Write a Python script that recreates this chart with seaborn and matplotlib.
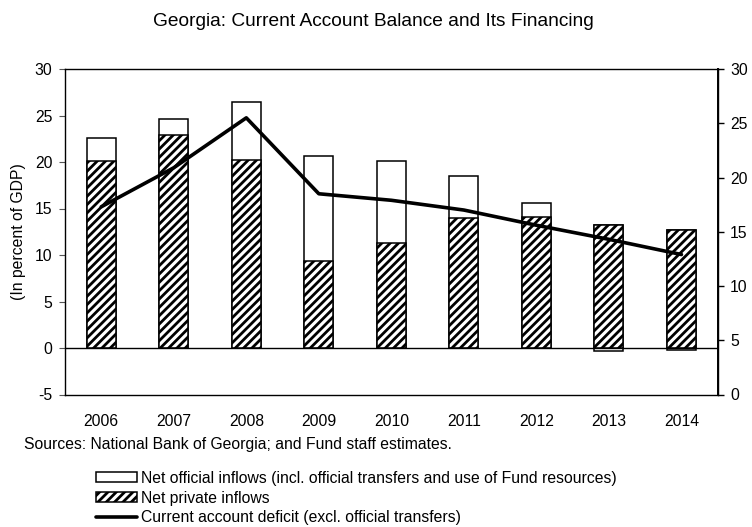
import numpy as np
import pandas as pd
import matplotlib
matplotlib.use("Agg")
import matplotlib.pyplot as plt
import seaborn as sns
from matplotlib.patches import Patch
from matplotlib.lines import Line2D

# Georgia: current account balance and its financing (percent of GDP)
years = ["2006", "2007", "2008", "2009", "2010", "2011", "2012", "2013", "2014"]
private_inflows = [20.1, 22.9, 20.2, 9.4, 11.3, 14.0, 14.1, 13.2, 12.7]
official_inflows = [2.5, 1.7, 6.3, 11.2, 8.8, 4.5, 1.5, -0.3, -0.2]
ca_deficit = [17.3, 20.9, 25.5, 18.5, 17.9, 17.0, 15.6, 14.3, 12.9]

title = "Georgia: Current Account Balance and Its Financing"
source_note = "Sources: National Bank of Georgia; and Fund staff estimates."
legend_labels = [
    "Net official inflows (incl. official transfers and use of Fund resources)",
    "Net private inflows",
    "Current account deficit (excl. official transfers)",
]

df = pd.DataFrame({
    "year": years,
    "private": private_inflows,
    "official": official_inflows,
    "deficit": ca_deficit,
})
df["stack_top"] = df["private"] + df["official"].clip(lower=0)
df["official_neg"] = df["official"].clip(upper=0)

sns.set_theme(style="white")
plt.rcParams["font.family"] = ["Liberation Sans", "DejaVu Sans"]
plt.rcParams["axes.unicode_minus"] = False
plt.rcParams["hatch.linewidth"] = 2.0
plt.rcParams["hatch.color"] = "black"
plt.rcParams["text.color"] = "black"
plt.rcParams["axes.labelcolor"] = "black"

W, H = 752, 527
fig = plt.figure(figsize=(W / 100, H / 100), dpi=100)
ax = fig.add_axes([65 / W, 1 - 394.5 / H, (717.7 - 65) / W, (394.5 - 69) / H])

fs = 11.3
bar_kw = dict(ax=ax, width=0.4, edgecolor="black", linewidth=1.1,
              saturation=1, order=years)

# official inflows stacked on top of private inflows (white), negatives below zero
sns.barplot(data=df, x="year", y="stack_top", color="white", **bar_kw)
sns.barplot(data=df, x="year", y="official_neg", color="white", **bar_kw)
# private inflows, hatched
sns.barplot(data=df, x="year", y="private", color="white", hatch="////", **bar_kw)

ax.axhline(0, color="black", lw=1.0, zorder=3)
ax.set_ylim(-5, 30)
ax.set_yticks(range(-5, 31, 5))
ax.set_xlim(-0.5, len(years) - 0.5)
ax.set_xlabel("")
ax.set_ylabel("(In percent of GDP)", fontsize=fs, labelpad=6, color="black")
ax.tick_params(axis="y", which="both", left=True, length=4, width=0.8,
               color="#555555", labelcolor="black", labelsize=fs, pad=5)
ax.tick_params(axis="x", bottom=False, labelcolor="black", labelsize=fs, pad=8)
for s in ax.spines.values():
    s.set_color("black")
    s.set_linewidth(1.0)

# current account deficit on the right-hand scale
ax2 = ax.twinx()
sns.lineplot(x=np.arange(len(years)), y=df["deficit"].values, ax=ax2,
             color="black", linewidth=2.6)
ax2.set_ylim(0, 30)
ax2.set_yticks(range(0, 31, 5))
ax2.set_xlim(-0.5, len(years) - 0.5)
ax2.tick_params(axis="y", right=True, length=4, width=1.0, color="black",
                labelcolor="black", labelsize=fs, pad=5)
ax2.set_ylabel("")
for s in ax2.spines.values():
    s.set_visible(False)
ax2.spines["right"].set_visible(True)
ax2.spines["right"].set_color("black")
ax2.spines["right"].set_linewidth(1.4)

fig.text(373 / W, 1 - 22 / H, title, ha="center", va="center", fontsize=13.8,
         color="black")
fig.text(24 / W, 1 - 445 / H, source_note, ha="left", va="center", fontsize=fs,
         color="black")

handles = [
    Patch(facecolor="white", edgecolor="black", linewidth=1.1),
    Patch(facecolor="white", edgecolor="black", linewidth=1.1, hatch="////"),
    Line2D([0], [0], color="black", linewidth=2.6),
]
leg = fig.legend(handles, legend_labels, loc="upper left",
                 bbox_to_anchor=(96 / W, 1 - 471 / H), frameon=False, fontsize=fs,
                 borderpad=0, borderaxespad=0, handlelength=2.6, handleheight=0.6,
                 handletextpad=0.25, labelspacing=0.3)
for t in leg.get_texts():
    t.set_color("black")

fig.savefig("out.png", dpi=100)
